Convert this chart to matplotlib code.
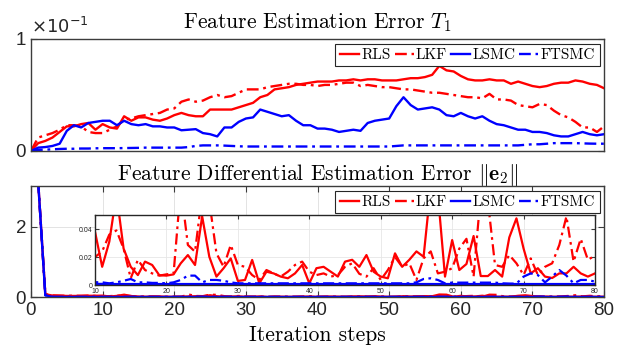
import numpy as np
import matplotlib
matplotlib.use('Agg')
import matplotlib.pyplot as plt

# ---- data: feature estimation error T1 (steps 0..80)
steps_top = np.arange(0, 81)
rls_t1 = [0, 0.007, 0.009, 0.012, 0.017, 0.022, 0.022, 0.024, 0.025, 0.019,
          0.024, 0.021, 0.020, 0.031, 0.027, 0.030, 0.030, 0.028, 0.027, 0.029,
          0.032, 0.034, 0.032, 0.031, 0.031, 0.037, 0.037, 0.037, 0.037, 0.039,
          0.041, 0.043, 0.048, 0.050, 0.055, 0.056, 0.057, 0.059, 0.060, 0.061,
          0.062, 0.062, 0.062, 0.063, 0.063, 0.064, 0.063, 0.064, 0.064, 0.063,
          0.063, 0.063, 0.064, 0.065, 0.065, 0.066, 0.068, 0.076, 0.072, 0.071,
          0.067, 0.064, 0.063, 0.063, 0.064, 0.063, 0.063, 0.060, 0.062, 0.060,
          0.058, 0.057, 0.058, 0.060, 0.061, 0.061, 0.063, 0.062, 0.060, 0.059,
          0.056]
lkf_t1 = [0, 0.012, 0.014, 0.016, 0.019, 0.023, 0.023, 0.022, 0.017, 0.016,
          0.016, 0.019, 0.022, 0.028, 0.029, 0.031, 0.032, 0.033, 0.034, 0.037,
          0.038, 0.044, 0.046, 0.044, 0.045, 0.048, 0.050, 0.048, 0.049, 0.052,
          0.055, 0.055, 0.055, 0.057, 0.058, 0.059, 0.060, 0.060, 0.059, 0.059,
          0.058, 0.059, 0.059, 0.060, 0.061, 0.061, 0.058, 0.059, 0.058, 0.057,
          0.057, 0.056, 0.055, 0.055, 0.054, 0.053, 0.052, 0.052, 0.051, 0.050,
          0.049, 0.048, 0.048, 0.047, 0.051, 0.046, 0.046, 0.045, 0.041, 0.040,
          0.039, 0.042, 0.041, 0.036, 0.032, 0.030, 0.026, 0.021, 0.021, 0.017,
          0.022]
lsmc_t1 = [0, 0.003, 0.0035, 0.0045, 0.0065, 0.018, 0.023, 0.021, 0.025, 0.026,
           0.027, 0.027, 0.023, 0.027, 0.024, 0.023, 0.024, 0.022, 0.022, 0.021,
           0.021, 0.0185, 0.019, 0.0195, 0.016, 0.015, 0.013, 0.021, 0.021, 0.026,
           0.029, 0.030, 0.037, 0.035, 0.033, 0.031, 0.032, 0.027, 0.023, 0.023,
           0.020, 0.020, 0.019, 0.017, 0.018, 0.019, 0.018, 0.025, 0.027, 0.028,
           0.029, 0.040, 0.048, 0.041, 0.037, 0.038, 0.039, 0.037, 0.032, 0.031,
           0.034, 0.031, 0.029, 0.031, 0.027, 0.024, 0.023, 0.021, 0.019, 0.019,
           0.017, 0.017, 0.016, 0.014, 0.013, 0.013, 0.015, 0.017, 0.015, 0.014,
           0.015]
ftsmc_t1 = [0, 0.001, 0.0012, 0.0015, 0.0018, 0.002, 0.002, 0.0022, 0.0022, 0.0024,
            0.0025, 0.0025, 0.0025, 0.0026, 0.0027, 0.0028, 0.003, 0.003, 0.003, 0.003,
            0.003, 0.003, 0.0035, 0.0045, 0.005, 0.005, 0.005, 0.0048, 0.0045, 0.0042,
            0.004, 0.004, 0.004, 0.004, 0.004, 0.004, 0.004, 0.004, 0.004, 0.004,
            0.004, 0.004, 0.004, 0.004, 0.004, 0.004, 0.004, 0.004, 0.004, 0.004,
            0.004, 0.0045, 0.005, 0.005, 0.005, 0.005, 0.005, 0.005, 0.005, 0.005,
            0.005, 0.005, 0.005, 0.005, 0.005, 0.005, 0.005, 0.005, 0.005, 0.0055,
            0.006, 0.006, 0.0065, 0.007, 0.007, 0.007, 0.007, 0.0068, 0.0066, 0.0065,
            0.0065]

# ---- data: feature differential estimation error ||e2|| (steps 1..80)
steps_bot = np.arange(1, 81)
rls_e2 = [3.3, 0.08, 0.04, 0.035, 0.03, 0.03, 0.03, 0.035, 0.035,
          0.038, 0.013, 0.031, 0.065, 0.026, 0.013, 0.0071, 0.0167, 0.0143, 0.007,
          0.0067, 0.0076, 0.0155, 0.0214, 0.0143, 0.049, 0.0202, 0.006, 0.012, 0.019,
          0.0029, 0.0036, 0.0179, 0.0012, 0.0095, 0.0083, 0.006, 0.0048, 0.0083, 0.0143,
          0.0012, 0.012, 0.013, 0.0095, 0.006, 0.0167, 0.018, 0.013, 0.0214, 0.0095,
          0.006, 0.0048, 0.0226, 0.013, 0.018, 0.024, 0.0202, 0.07, 0.065, 0.006,
          0.0321, 0.0107, 0.015, 0.035, 0.0064, 0.0064, 0.0107, 0.006, 0.034, 0.0476,
          0.026, 0.0083, 0.012, 0.006, 0.005, 0.0083, 0.0083, 0.013, 0.0083, 0.006,
          0.0083]
lkf_e2 = [3.3, 0.08, 0.045, 0.04, 0.035, 0.035, 0.035, 0.04, 0.03,
          0.020, 0.024, 0.036, 0.039, 0.026, 0.0048, 0.018, 0.0107, 0.0083, 0.0067,
          0.0076, 0.0083, 0.07, 0.0286, 0.0238, 0.065, 0.06, 0.0226, 0.013, 0.0286,
          0.0143, 0.013, 0.0071, 0.0036, 0.0107, 0.0083, 0.006, 0.0095, 0.0143, 0.0167,
          0.0095, 0.0071, 0.0083, 0.006, 0.0071, 0.013, 0.0155, 0.008, 0.006, 0.012,
          0.0036, 0.0107, 0.020, 0.013, 0.0155, 0.0036, 0.019, 0.024, 0.0083, 0.0095,
          0.012, 0.026, 0.033, 0.006, 0.065, 0.06, 0.0143, 0.013, 0.0214, 0.0155,
          0.0071, 0.019, 0.0071, 0.013, 0.0155, 0.0286, 0.049, 0.0167, 0.033, 0.018,
          0.021]
lsmc_e2 = [3.3, 0.05, 0.002, 0.001, 0.001, 0.001, 0.001, 0.001, 0.001,
           0.0008, 0.0008, 0.0007, 0.0007, 0.0007, 0.0007, 0.0007, 0.0007, 0.0007, 0.0007,
           0.0007, 0.0007, 0.0007, 0.0007, 0.0007, 0.0007, 0.0007, 0.0007, 0.0007, 0.0007,
           0.0007, 0.0007, 0.0007, 0.0007, 0.0007, 0.0007, 0.0007, 0.0007, 0.0007, 0.0007,
           0.0007, 0.0007, 0.0007, 0.0007, 0.0007, 0.0007, 0.0007, 0.0007, 0.0007, 0.0007,
           0.0007, 0.0007, 0.0007, 0.0007, 0.0007, 0.0007, 0.0007, 0.0007, 0.0007, 0.0007,
           0.0007, 0.0007, 0.0007, 0.0007, 0.0007, 0.0007, 0.0007, 0.0007, 0.0007, 0.0007,
           0.0007, 0.0007, 0.0007, 0.0007, 0.0007, 0.0007, 0.0007, 0.0007, 0.0007, 0.0007,
           0.0007]
ftsmc_e2 = [3.3, 0.05, 0.003, 0.002, 0.002, 0.002, 0.002, 0.002, 0.002,
            0.002, 0.0019, 0.0012, 0.0019, 0.003, 0.0043, 0.0019, 0.0019, 0.0015, 0.0015,
            0.0012, 0.0019, 0.0036, 0.0067, 0.0067, 0.0019, 0.0036, 0.0036, 0.003, 0.0019,
            0.0012, 0.0012, 0.0012, 0.0012, 0.0012, 0.0012, 0.0012, 0.0012, 0.0012, 0.0012,
            0.0012, 0.0012, 0.0012, 0.0012, 0.0012, 0.0012, 0.0012, 0.0012, 0.0012, 0.0012,
            0.0012, 0.0012, 0.0012, 0.0012, 0.0012, 0.0019, 0.0043, 0.0048, 0.0036, 0.0012,
            0.0017, 0.0017, 0.0017, 0.0017, 0.0017, 0.0017, 0.0017, 0.0012, 0.001, 0.001,
            0.006, 0.0083, 0.0071, 0.0019, 0.006, 0.0107, 0.0067, 0.0012, 0.0036, 0.0036,
            0.0024]

labels = ['RLS', 'LKF', 'LSMC', 'FTSMC']
colors = ['#ff0000', '#ff0000', '#0000ff', '#0000ff']
dashdot = (5, 2, 1.2, 2)
styles = ['-', dashdot, '-', dashdot]

serif = 'cmr10'
sans = 'Liberation Sans'
spine_c = '#3c3c3c'


def draw_lines(ax, x, series, lw=1.7):
    for y, c, ls, lab in zip(series, colors, styles, labels):
        if isinstance(ls, tuple):
            ax.plot(x, y, color=c, lw=lw, dashes=ls, label=lab)
        else:
            ax.plot(x, y, color=c, lw=lw, ls=ls, label=lab)


def style_axes(ax, tick_size=13.5):
    for s in ax.spines.values():
        s.set_color(spine_c)
        s.set_linewidth(1.0)
    ax.tick_params(direction='in', top=True, right=True, length=4,
                   width=0.8, color=spine_c, labelsize=tick_size)
    for t in ax.get_xticklabels() + ax.get_yticklabels():
        t.set_fontfamily(sans)
        t.set_color('#262626')


def add_legend(ax):
    leg = ax.legend(loc='upper right', ncol=4, bbox_to_anchor=(1.0, 1.0),
                    borderaxespad=0.3, handlelength=1.25, handletextpad=0.15,
                    columnspacing=0.25, borderpad=0.3, fancybox=False,
                    framealpha=1, edgecolor='#262626',
                    prop={'family': serif, 'size': 11})
    leg.get_frame().set_linewidth(0.8)
    return leg


fig = plt.figure(figsize=(6.26, 3.5), dpi=100)
ax1 = fig.add_axes([0.0495, 0.5686, 0.9155, 0.32])
ax2 = fig.add_axes([0.0495, 0.1514, 0.9155, 0.3172])

# top panel
draw_lines(ax1, steps_top, [rls_t1, lkf_t1, lsmc_t1, ftsmc_t1])
ax1.set_xlim(0, 80)
ax1.set_ylim(0, 0.1)
ax1.set_yticks([0, 0.1])
ax1.set_yticklabels(['0', '1'])
ax1.set_xticks(range(0, 81, 10))
ax1.tick_params(labelbottom=False)
style_axes(ax1)
ax1.tick_params(axis='x', length=0)
ax1.set_title(r'Feature Estimation Error $T_1$', fontfamily=serif,
              fontsize=15.5, pad=8, math_fontfamily='cm')
ax1.text(0.0, 1.02, r'$\times10^{-1}$', transform=ax1.transAxes,
         fontsize=13, fontfamily=sans, math_fontfamily='dejavusans',
         color='#262626', ha='left', va='bottom')
add_legend(ax1)

# bottom panel
draw_lines(ax2, steps_bot, [rls_e2, lkf_e2, lsmc_e2, ftsmc_e2])
ax2.set_xlim(0, 80)
ax2.set_ylim(0, 3.17)
ax2.set_yticks([0, 2])
ax2.set_xticks(range(0, 81, 10))
ax2.grid(True, color='#e3e3e3', lw=0.7)
ax2.set_axisbelow(True)
style_axes(ax2)
ax2.set_title(r'Feature Differential Estimation Error $\|\mathbf{e}_2\|$',
              fontfamily=serif, fontsize=15.5, pad=4, math_fontfamily='cm')
ax2.set_xlabel('Iteration steps', fontfamily=serif, fontsize=15.5, labelpad=5)
add_legend(ax2)

# zoomed inset
ins = fig.add_axes([0.1518, 0.1857, 0.7987, 0.2])
draw_lines(ins, steps_bot, [rls_e2, lkf_e2, lsmc_e2, ftsmc_e2], lw=1.6)
ins.set_xlim(10, 80)
ins.set_ylim(0, 0.05)
ins.set_xticks(range(10, 81, 10))
ins.set_yticks([0, 0.02, 0.04])
ins.set_yticklabels(['0', '0.02', '0.04'])
ins.grid(True, color='#e6e6e6', lw=0.6)
ins.set_axisbelow(True)
style_axes(ins, tick_size=5)
ins.tick_params(length=3)
ins.tick_params(axis='x', pad=2.5)
ins.tick_params(axis='y', pad=2)
for s in ins.spines.values():
    s.set_color('#262626')

fig.savefig('out.png', dpi=100)
